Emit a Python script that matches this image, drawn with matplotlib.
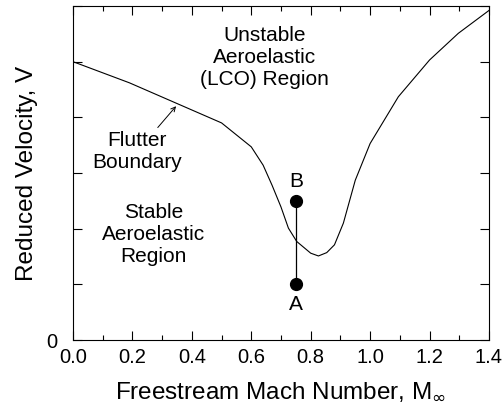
import numpy as np
import matplotlib
matplotlib.use("Agg")
import matplotlib.pyplot as plt
from matplotlib.ticker import MultipleLocator, FixedLocator, FixedFormatter

plt.rcParams['font.family'] = ['Liberation Sans', 'DejaVu Sans']

# flutter boundary
mach = [0.0, 0.19, 0.50, 0.60, 0.64, 0.67, 0.70, 0.725, 0.753, 0.80, 0.826,
        0.854, 0.88, 0.91, 0.95, 1.0, 1.095, 1.20, 1.297, 1.40]
vel = [5.0, 4.62, 3.90, 3.47, 3.14, 2.78, 2.39, 2.01, 1.77, 1.56, 1.51,
       1.57, 1.71, 2.10, 2.87, 3.53, 4.37, 5.03, 5.51, 5.92]

# points A and B
pt_mach = [0.75, 0.75]
pt_vel = [1.0, 2.5]
pt_names = ["A", "B"]

fig = plt.figure(figsize=(5.04, 4.11), dpi=100)
ax = fig.add_axes([0.1448, 0.1727, 0.8254, 0.8127])

ax.plot(mach, vel, color="black", lw=0.8)
ax.plot(pt_mach, pt_vel, color="black", lw=0.9, marker="o", ms=8.5)
ax.text(pt_mach[0], pt_vel[0] - 0.2, pt_names[0], ha="center", va="top", fontsize=15)
ax.text(pt_mach[1], pt_vel[1] + 0.17, pt_names[1], ha="center", va="bottom", fontsize=15)

ax.text(0.646, 5.08, "Unstable\nAeroelastic\n(LCO) Region", ha="center", va="center",
        fontsize=15, linespacing=1.2)
ax.text(0.27, 1.89, "Stable\nAeroelastic\nRegion", ha="center", va="center",
        fontsize=15, linespacing=1.2)
ax.annotate("Flutter\nBoundary", xy=(0.347, 4.20), xytext=(0.215, 3.38),
            ha="center", va="center", fontsize=15, linespacing=1.2,
            arrowprops=dict(arrowstyle="->", color="black", lw=0.7,
                            shrinkA=1, shrinkB=0, mutation_scale=8))

ax.set_xlim(0, 1.4)
ax.set_ylim(0, 6)
ax.xaxis.set_major_locator(MultipleLocator(0.2))
ax.xaxis.set_minor_locator(MultipleLocator(0.1))
ax.xaxis.set_major_formatter(matplotlib.ticker.FormatStrFormatter("%.1f"))
ax.yaxis.set_major_locator(FixedLocator([0, 1, 2, 3, 4, 5, 6]))
ax.yaxis.set_major_formatter(FixedFormatter(["0", "", "", "", "", "", ""]))
ax.tick_params(which="both", direction="in", top=True, right=True, labelsize=14.5, width=0.8)
ax.tick_params(which="major", length=6.5)
ax.tick_params(which="minor", length=3.5)
ax.tick_params(axis="x", pad=6)
ax.tick_params(axis="y", pad=11)
for s in ax.spines.values():
    s.set_linewidth(0.8)

ax.set_xlabel(r"Freestream Mach Number, M$_{\infty}$", fontsize=17.5, labelpad=9)
ax.set_ylabel("Reduced Velocity, V", fontsize=17.5, labelpad=6)

fig.savefig("out.png", dpi=100)
